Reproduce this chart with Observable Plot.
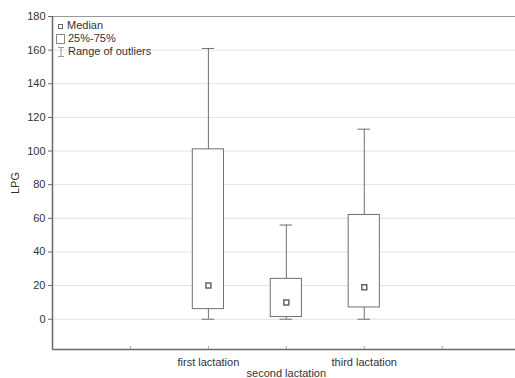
<!DOCTYPE html>
<html>
<head>
<meta charset="utf-8">
<script src="https://cdn.jsdelivr.net/npm/d3@7"></script>
<script src="https://cdn.jsdelivr.net/npm/@observablehq/plot@0.6"></script>
<style>
  body { margin: 0; background: #fff; }
  #wrap { position: relative; width: 515px; height: 378px; font-family: "Liberation Sans", Arial, sans-serif; }
  #legend { position: absolute; left: 56px; top: 19px; font-size: 11px; color: #333; line-height: 13px; }
  #legend div { display: flex; align-items: center; height: 13px; }
  #legend svg { margin-right: 2px; }
</style>
</head>
<body>
<div id="wrap">
  <div id="chart"></div>
  <div id="legend">
    <div><svg width="9" height="10"><rect x="2.5" y="3.5" width="4" height="4" fill="none" stroke="#666"/></svg>Median</div>
    <div><svg width="10" height="12"><rect x="0.5" y="1.5" width="8" height="9" fill="none" stroke="#888"/></svg>25%-75%</div>
    <div><svg width="10" height="12"><path d="M2,1.5H8M5,1.5V10.5M2,10.5H8" fill="none" stroke="#999"/></svg>Range of outliers</div>
  </div>
</div>
<script>
const categories = ["first lactation", "second lactation", "third lactation"];
const mins = [0, 0, 0];
const q1s = [6, 1.3, 7];
const medians = [20, 10, 19];
const q3s = [101, 24, 62];
const maxs = [161, 56, 113];
const yTicks = [0, 20, 40, 60, 80, 100, 120, 140, 160, 180];
const xTicks = [1, 2, 3, 4, 5];

const data = categories.map((c, i) => ({
  cat: c, pos: i + 2, min: mins[i], q1: q1s[i], med: medians[i], q3: q3s[i], max: maxs[i], row: i % 2
}));

const axisColor = "#6a6a6a";
const boxColor = "#707070";
const yBottom = -18;

const chart = Plot.plot({
  width: 515,
  height: 378,
  marginLeft: 52,
  marginRight: 0,
  marginTop: 16,
  marginBottom: 29,
  style: { fontFamily: "'Liberation Sans', Arial, sans-serif", fontSize: "11px", color: "#333", background: "#fff", overflow: "visible" },
  x: { domain: [0, 5.94], axis: null },
  y: { domain: [yBottom, 180], axis: null },
  marks: [
    Plot.ruleY(yTicks, { stroke: "#e2e2e2", strokeWidth: 1 }),
    Plot.ruleY([180], { stroke: "#999" }),
    Plot.axisY({ ticks: yTicks, tickSize: 4, tickPadding: 3, stroke: axisColor, label: "LPG", labelAnchor: "center", labelArrow: "none", labelOffset: 41, fill: "#333" }),
    Plot.axisX({ ticks: xTicks, tickSize: -3, tickFormat: () => "", stroke: "#aaa", label: null }),
    Plot.ruleX([0], { stroke: axisColor, strokeWidth: 1.5 }),
    Plot.ruleY([yBottom], { stroke: axisColor, strokeWidth: 1.5 }),
    // whiskers
    Plot.ruleX(data, { x: "pos", y1: "min", y2: "q1", stroke: boxColor }),
    Plot.ruleX(data, { x: "pos", y1: "q3", y2: "max", stroke: boxColor }),
    Plot.ruleY(data, { y: "max", x1: d => d.pos - 0.08, x2: d => d.pos + 0.08, stroke: boxColor }),
    Plot.ruleY(data, { y: "min", x1: d => d.pos - 0.08, x2: d => d.pos + 0.08, stroke: boxColor }),
    // boxes
    Plot.rect(data, { x1: d => d.pos - 0.2, x2: d => d.pos + 0.2, y1: "q1", y2: "q3", fill: "white", stroke: boxColor }),
    // medians
    Plot.dot(data, { x: "pos", y: "med", symbol: "square", r: 2.8, fill: "white", stroke: "#666" }),
    // category labels (alternating rows)
    Plot.text(data.filter(d => d.row === 0), { x: "pos", y: () => yBottom, text: "cat", dy: 13, fill: "#333" }),
    Plot.text(data.filter(d => d.row === 1), { x: "pos", y: () => yBottom, text: "cat", dy: 24, fill: "#333" })
  ]
});

document.getElementById("chart").appendChild(chart);
</script>
</body>
</html>
